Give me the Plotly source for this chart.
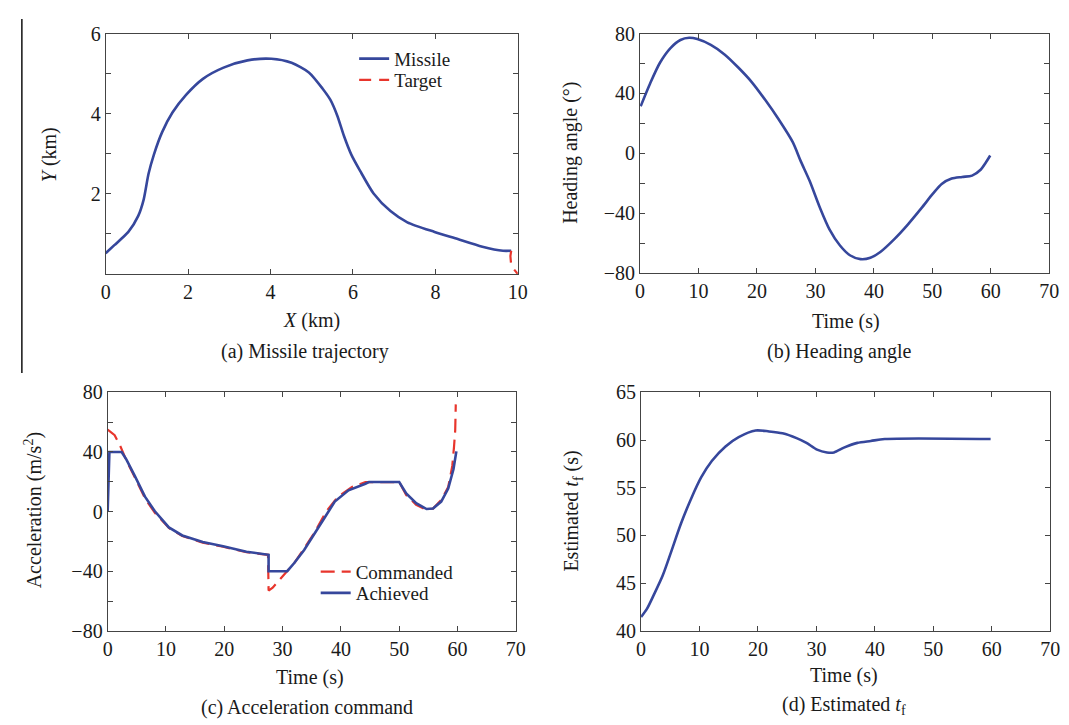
import plotly.graph_objects as go

# ---------------- data ----------------
# (a) trajectory (km)
missile_x = [0.0, 0.21, 0.55, 0.79, 0.92, 1.04, 1.17, 1.37, 1.62, 1.95, 2.36, 2.86, 3.44, 4.02,
             4.51, 4.93, 5.26, 5.45, 5.62, 5.78, 5.96, 6.17, 6.5, 6.91, 7.32, 7.98, 8.48, 9.14,
             9.64, 9.84]
missile_y = [0.52, 0.72, 1.05, 1.45, 1.85, 2.5, 2.98, 3.54, 4.03, 4.47, 4.87, 5.15, 5.33, 5.37,
             5.27, 5.03, 4.63, 4.35, 3.95, 3.45, 2.98, 2.58, 2.01, 1.57, 1.29, 1.05, 0.89, 0.68,
             0.58, 0.58]
target_x = [9.84, 9.82, 9.84, 10.0]
target_y = [0.58, 0.45, 0.2, 0.0]

# (b) heading angle (deg)
head_t = [0.1, 1.7, 3.4, 5.2, 6.9, 8.4, 9.8, 12.1, 14.5, 16.8, 19.1, 21.4, 23.7, 26.1, 27.5, 29.0,
          30.7, 32.4, 34.2, 35.9, 37.7, 39.4, 41.1, 43.5, 45.8, 48.1, 50.1, 51.6, 53.3, 55.1,
          56.8, 58.3, 59.1, 59.9]
head_deg = [31.4, 46.5, 60.5, 70.3, 75.7, 77.2, 76.3, 72.4, 65.9, 57.3, 47.6, 35.7, 22.7, 7.6, -5.4,
            -18.4, -35.7, -50.8, -61.6, -68.1, -70.7, -69.8, -65.9, -57.3, -47.6, -36.8, -27.0,
            -20.5, -16.9, -15.8, -14.9, -10.8, -6.5, -1.5]

# (c) acceleration (m/s^2)
ach_t = [0.0, 0.3, 2.4, 3.2, 4.65, 6.4, 8.1, 10.5, 12.8, 16.3, 19.8, 23.8, 27.6, 27.6, 30.8, 32.0,
         33.7, 35.5, 37.2, 38.95, 41.3, 44.2, 44.8, 50.0, 51.2, 52.9, 54.7, 55.8, 57.2, 58.4,
         59.3, 59.8]
ach_a = [0.0, 40.0, 40.0, 35.0, 24.0, 10.0, 0.2, -10.6, -16.0, -20.4, -23.2, -26.9, -29.0, -40.0,
         -40.0, -34.5, -25.8, -15.0, -4.1, 6.7, 14.3, 18.7, 19.8, 19.8, 12.2, 5.6, 1.7, 2.0, 6.7,
         15.4, 28.4, 40.4]
cmd_t = [0.0, 1.2, 2.2, 3.2, 4.65, 6.4, 8.1, 10.5, 12.8, 16.3, 19.8, 23.8, 27.5, 27.6, 28.3, 32.0,
         33.7, 35.5, 37.5, 39.5, 41.9, 44.2, 50.0, 51.2, 52.9, 54.4, 55.8, 57.2, 58.4, 59.1, 59.4,
         59.6, 59.7]
cmd_a = [54.9, 51.2, 43.6, 34.5, 23.0, 8.9, -0.9, -11.0, -16.3, -20.8, -23.6, -27.3, -29.0, -53.0,
         -51.0, -34.5, -24.7, -13.9, 0.2, 10.0, 16.5, 19.8, 19.8, 11.0, 4.6, 1.7, 2.0, 7.8, 16.5,
         30.6, 43.6, 54.5, 71.9]

# (d) estimated final time (s)
tf_t = [0.0, 1.0, 2.2, 3.7, 5.1, 6.8, 8.6, 10.3, 12.1, 14.4, 16.7, 19.6, 21.9, 24.2, 26.6, 28.3,
        30.1, 31.8, 33.0, 34.7, 37.0, 39.3, 41.7, 59.8]
tf_est = [41.45, 42.3, 43.8, 45.8, 48.2, 51.2, 53.9, 56.1, 57.8, 59.3, 60.3, 61.0, 60.9, 60.7, 60.2,
          59.7, 59.0, 58.7, 58.7, 59.2, 59.7, 59.9, 60.1, 60.1]

# tick labels
a_x_ticks = [0, 2, 4, 6, 8, 10]
a_y_ticks = [0, 1, 2, 3, 4, 5, 6]
a_y_text = ["", "", "2", "", "4", "", "6"]
t_ticks = [0, 10, 20, 30, 40, 50, 60, 70]
pm80_ticks = [-80, -60, -40, -20, 0, 20, 40, 60, 80]
pm80_text = ["\u221280", "", "\u221240", "", "0", "", "40", "", "80"]
d_y_ticks = [40, 45, 50, 55, 60, 65]

# ---------------- style ----------------
W, H = 1069, 725
BLUE = "#36479c"
RED = "#e8352c"
FONT = "Liberation Serif, Times New Roman, DejaVu Serif, serif"
FS = 20
LFS = 19
TXT = "#1a1a1a"


def px_x(p):
    return p / W


def px_y(p):
    return 1 - p / H


fig = go.Figure()

fig.add_trace(go.Scatter(x=missile_x, y=missile_y, mode="lines", name="Missile",
                         line=dict(color=BLUE, width=2.6, shape="spline", smoothing=0.7),
                         xaxis="x", yaxis="y", legend="legend"))
fig.add_trace(go.Scatter(x=target_x, y=target_y, mode="lines", name="Target",
                         line=dict(color=RED, width=2.2, dash="12px,8px"), xaxis="x", yaxis="y",
                         legend="legend2"))
fig.add_trace(go.Scatter(x=head_t, y=head_deg, mode="lines", showlegend=False,
                         line=dict(color=BLUE, width=2.6, shape="spline", smoothing=0.8),
                         xaxis="x2", yaxis="y2"))
fig.add_trace(go.Scatter(x=cmd_t, y=cmd_a, mode="lines", name="Commanded",
                         line=dict(color=RED, width=2.2, dash="14px,7px"), xaxis="x3", yaxis="y3",
                         legend="legend3"))
fig.add_trace(go.Scatter(x=ach_t, y=ach_a, mode="lines", name="Achieved",
                         line=dict(color=BLUE, width=2.6), xaxis="x3", yaxis="y3",
                         legend="legend4"))
fig.add_trace(go.Scatter(x=tf_t, y=tf_est, mode="lines", showlegend=False,
                         line=dict(color=BLUE, width=2.6, shape="spline", smoothing=0.8),
                         xaxis="x4", yaxis="y4"))


def axis(domain, rng, tickvals, ticktext=None, anchor=None):
    d = dict(domain=domain, range=rng, tickmode="array", tickvals=tickvals,
             ticks="inside", ticklen=5, tickcolor="#444", tickwidth=1,
             showline=True, linecolor="#444", linewidth=1, mirror="ticks",
             showgrid=False, zeroline=False,
             tickfont=dict(family=FONT, size=FS, color=TXT), anchor=anchor)
    if ticktext is not None:
        d["ticktext"] = ticktext
    return d


# pixel boxes: left, right, top, bottom
boxes = {
    "a": (94, 512, 15, 263),
    "b": (636, 1051, 15, 262),
    "c": (96, 510, 385, 631),
    "d": (637, 1052, 385, 631),
}


def dom(b):
    l, r, t, bt = b
    return [px_x(l), px_x(r)], [px_y(bt), px_y(t)]


ax_a, ay_a = dom(boxes["a"])
ax_b, ay_b = dom(boxes["b"])
ax_c, ay_c = dom(boxes["c"])
ax_d, ay_d = dom(boxes["d"])


def leg(x_px, y_center_px):
    return dict(x=px_x(x_px), y=px_y(y_center_px), xanchor="left", yanchor="middle",
                bgcolor="rgba(0,0,0,0)", font=dict(family=FONT, size=LFS, color=TXT),
                tracegroupgap=0, itemwidth=30)


fig.update_layout(
    width=W, height=H,
    margin=dict(l=0, r=0, t=0, b=0),
    paper_bgcolor="white", plot_bgcolor="white",
    font=dict(family=FONT, size=FS, color=TXT),
    xaxis=axis(ax_a, [0, 10], a_x_ticks, anchor="y"),
    yaxis=axis(ay_a, [0, 6], a_y_ticks, a_y_text, anchor="x"),
    xaxis2=axis(ax_b, [0, 70], t_ticks, anchor="y2"),
    yaxis2=axis(ay_b, [-80, 80], pm80_ticks, pm80_text, anchor="x2"),
    xaxis3=axis(ax_c, [0, 70], t_ticks, anchor="y3"),
    yaxis3=axis(ay_c, [-80, 80], pm80_ticks, pm80_text, anchor="x3"),
    xaxis4=axis(ax_d, [0, 70], t_ticks, anchor="y4"),
    yaxis4=axis(ay_d, [40, 65], d_y_ticks, anchor="x4"),
    legend=leg(346, 41),
    legend2=leg(346, 63),
    legend3=leg(307, 570),
    legend4=leg(307, 592),
)

texts = [
    # (text, x_px, y_px, angle)
    ("<i>X</i> (km)", 303, 311, 0),
    ("(a) Missile trajectory", 296, 343, 0),
    ("<i>Y</i> (km)", 37, 140, -90),
    ("Time (s)", 845, 312, 0),
    ("(b) Heading angle", 838, 343, 0),
    ("Heading angle (°)", 566, 138, -90),
    ("Time (s)", 301, 679, 0),
    ("(c) Acceleration command", 298, 710, 0),
    ("Acceleration (m/s<sup>2</sup>)", 21, 507, -90),
    ("Time (s)", 843, 677, 0),
    ("(d) Estimated <i>t</i><sub>f</sub>", 843, 708, 0),
    ("Estimated <i>t</i><sub>f</sub> (s)", 568, 508, -90),
]
for t, x, y, ang in texts:
    fig.add_annotation(text=t, x=px_x(x), y=px_y(y), xref="paper", yref="paper",
                       showarrow=False, xanchor="center", yanchor="middle", textangle=ang,
                       font=dict(family=FONT, size=FS, color=TXT))

# left border rule in the scanned page
fig.add_shape(type="line", xref="paper", yref="paper", x0=px_x(9), x1=px_x(9),
              y0=px_y(0), y1=px_y(365), line=dict(color="#111", width=1.5))

fig.write_html("out.html")
